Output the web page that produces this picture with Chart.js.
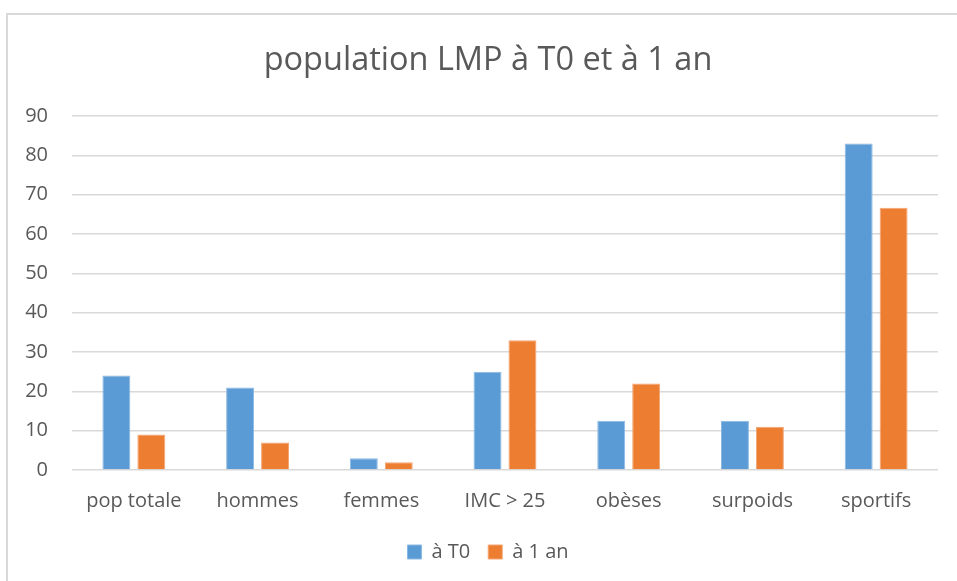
<!DOCTYPE html>
<html>
<head>
<meta charset="utf-8">
<script src="https://cdn.jsdelivr.net/npm/chart.js@4"></script>
<style>
    html, body { margin: 0; padding: 0; background: #ffffff; }
    #frame { position: absolute; left: 6px; top: 13px; width: 980px; height: 600px; border: 2px solid #d9d9d9; box-sizing: border-box; }
    #wrap { position: absolute; left: 0; top: 0; width: 957px; height: 581px; }
</style>
</head>
<body>
<div id="frame"></div>
<div id="wrap"><canvas id="grafico"></canvas></div>
<script>
const categories = ['pop totale', 'hommes', 'femmes', 'IMC > 25', 'obèses', 'surpoids', 'sportifs'];
const valuesT0 = [24, 21, 3, 25, 12.5, 12.5, 83];
const values1an = [9, 7, 2, 33, 22, 11, 66.7];
const yTicks = [0, 10, 20, 30, 40, 50, 60, 70, 80, 90];

const textColor = '#595959';
const fontFamily = '"Open Sans", Lato, sans-serif';

const ctx = document.getElementById('grafico').getContext('2d');

new Chart(ctx, {
    type: 'bar',
    data: {
        labels: categories,
        datasets: [
            {
                label: 'à T0',
                data: valuesT0,
                backgroundColor: '#5b9bd5',
                borderColor: '#8bb9e3',
                borderWidth: 1,
                categoryPercentage: 0.565,
                barPercentage: 0.8
            },
            {
                label: 'à 1 an',
                data: values1an,
                backgroundColor: '#ed7d31',
                borderColor: '#f2a574',
                borderWidth: 1,
                categoryPercentage: 0.565,
                barPercentage: 0.8
            }
        ]
    },
    options: {
        responsive: true,
        maintainAspectRatio: false,
        animation: false,
        layout: {
            padding: { top: 41, left: 25, right: 6, bottom: 9 }
        },
        plugins: {
            title: {
                display: true,
                text: 'population LMP à T0 et à 1 an',
                color: textColor,
                font: { family: fontFamily, size: 32.5, weight: 'normal' },
                padding: { top: 0, bottom: 36 }
            },
            legend: {
                display: true,
                position: 'bottom',
                labels: {
                    color: textColor,
                    font: { family: fontFamily, size: 20 },
                    boxWidth: 14,
                    boxHeight: 14,
                    padding: 18
                }
            },
            tooltip: { enabled: false }
        },
        scales: {
            x: {
                grid: { display: false },
                border: { display: false },
                ticks: {
                    color: textColor,
                    font: { family: fontFamily, size: 20 },
                    padding: 11
                }
            },
            y: {
                min: 0,
                max: 90,
                afterBuildTicks: axis => {
                    axis.ticks = yTicks.map(v => ({ value: v }));
                },
                afterFit: axis => { axis.width = 47; },
                grid: { color: '#d9d9d9', lineWidth: 1.5, drawTicks: false },
                border: { display: false },
                ticks: {
                    color: textColor,
                    font: { family: fontFamily, size: 20 },
                    padding: 24
                }
            },
            // empty scale on the right, only to keep the plot inside the frame
            yRight: {
                position: 'right',
                display: true,
                grid: { display: false },
                border: { display: false },
                ticks: { display: false },
                afterFit: axis => { axis.width = 13; }
            }
        }
    }
});
</script>
</body>
</html>
